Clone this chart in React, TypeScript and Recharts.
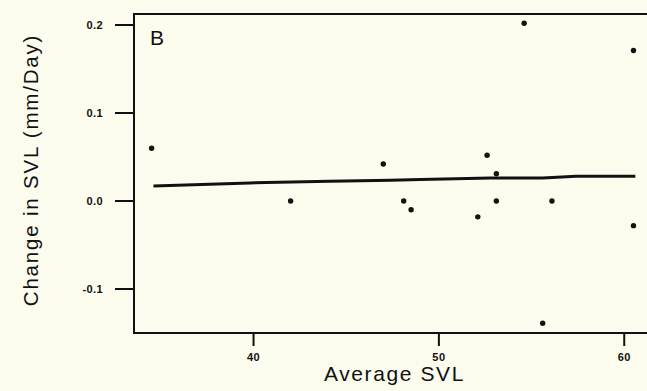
import React from 'react';
import { ScatterChart, Scatter, XAxis, YAxis, ReferenceArea } from 'recharts';

// Observed points: average SVL vs change in SVL per day
const svlAvg = [34.5, 42.0, 47.0, 48.1, 48.5, 52.1, 52.6, 53.1, 53.1, 54.6, 55.6, 56.1, 60.5, 60.5];
const svlChange = [0.06, 0.0, 0.042, 0.0, -0.01, -0.018, 0.052, 0.031, 0.0, 0.202, -0.139, 0.0, 0.171, -0.028];

// smoothed fit line
const fitX = [34.6, 39.8, 44.1, 47.4, 49.0, 52.8, 55.6, 57.4, 60.6];
const fitY = [0.017, 0.0205, 0.0225, 0.0235, 0.0245, 0.026, 0.026, 0.028, 0.028];

const xTicks = [40, 50, 60];
const yTicks = [-0.1, 0.0, 0.1, 0.2];

const xDomain: [number, number] = [33.55, 61.66];
const yDomain: [number, number] = [-0.15, 0.2125];

const points = svlAvg.map((x, i) => ({ x, y: svlChange[i] }));
const fit = fitX.map((x, i) => ({ x, y: fitY[i] }));

const ink = '#111';
const font = '"Liberation Sans", Arial, Helvetica, sans-serif';

const Dot = (props: any) => <circle cx={props.cx} cy={props.cy} r={2.7} fill={ink} />;
const NoDot = () => <g />;

const tickStyle = { fill: ink, fontSize: 11, fontWeight: 700, fontFamily: font, letterSpacing: 0.4 };

export default function App() {
  return (
    <div
      style={{
        position: 'fixed',
        left: 0,
        top: 0,
        width: 647,
        height: 391,
        overflow: 'hidden',
        background: '#fbfbee',
      }}
    >
      <ScatterChart width={660} height={391} margin={{ top: 14, right: 5, left: 0, bottom: 0 }}>
        <XAxis
          type="number"
          dataKey="x"
          domain={xDomain}
          ticks={xTicks}
          allowDataOverflow
          height={58}
          tickSize={13}
          tickMargin={7}
          axisLine={{ stroke: ink, strokeWidth: 2 }}
          tickLine={{ stroke: ink, strokeWidth: 2 }}
          tick={tickStyle}
          label={{
            value: 'Average SVL',
            position: 'insideBottom',
            offset: 10,
            style: { fill: ink, fontSize: 21, fontFamily: font, letterSpacing: 1.6 },
          }}
        />
        <YAxis
          type="number"
          dataKey="y"
          domain={yDomain}
          ticks={yTicks}
          allowDataOverflow
          width={134}
          tickSize={19}
          tickMargin={12}
          tickFormatter={(v: number) => v.toFixed(1)}
          axisLine={{ stroke: ink, strokeWidth: 2 }}
          tickLine={{ stroke: ink, strokeWidth: 2 }}
          tick={tickStyle}
          label={{
            content: () => (
              <text
                x={30}
                y={170}
                transform="rotate(-90 30 170)"
                textAnchor="middle"
                dominantBaseline="central"
                fill={ink}
                fontSize={20.5}
                fontFamily={font}
                letterSpacing={1.8}
              >
                Change in SVL (mm/Day)
              </text>
            ),
          }}
        />
        <ReferenceArea
          x1={xDomain[0]}
          x2={xDomain[1]}
          y1={yDomain[0]}
          y2={yDomain[1]}
          fill="none"
          stroke={ink}
          strokeWidth={2}
          fillOpacity={0}
          label={{
            value: 'B',
            position: 'insideTopLeft',
            offset: 16,
            style: { fill: ink, fontSize: 21, fontFamily: font },
          }}
        />
        <Scatter
          data={fit}
          line={{ stroke: ink, strokeWidth: 3 }}
          lineType="joint"
          shape={NoDot}
          isAnimationActive={false}
        />
        <Scatter data={points} shape={Dot} isAnimationActive={false} />
      </ScatterChart>
    </div>
  );
}
